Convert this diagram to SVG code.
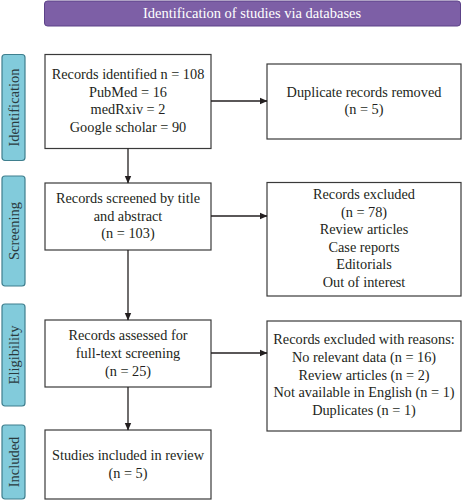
<svg xmlns="http://www.w3.org/2000/svg" width="462" height="500" viewBox="0 0 462 500">
<style>
text{font-family:"Liberation Serif","Times New Roman",serif;font-size:14.3px;fill:#231f20;stroke:none;text-anchor:middle;dominant-baseline:central}
.box{fill:#fff;stroke:#3a3a3a;stroke-width:1.2}
.phase{fill:#82cbdb;stroke:#3f7f8e;stroke-width:1.2}
.ph{font-size:14.5px;fill:#2a3a3e}
.conn{stroke:#231f20;stroke-width:1.3;fill:none;marker-end:url(#arr)}
</style>
<defs>
<marker id="arr" markerWidth="8" markerHeight="8" refX="7" refY="4" orient="auto" markerUnits="userSpaceOnUse">
<path d="M0,0.8 L7.5,4 L0,7.2 Z" fill="#231f20"/>
</marker>
</defs>
<g id="banner">
<rect x="44.5" y="1" width="416" height="25" rx="3" fill="#7d5fa6" stroke="#5c4288" stroke-width="1"/>
<text x="252" y="13" style="fill:#fff;font-size:14.5px">Identification of studies via databases</text>
</g>
<g id="phase-identification">
<rect class="phase" x="2" y="54.5" width="23" height="106" rx="3"/>
<text class="ph" transform="translate(13.5,107.5) rotate(-90)">Identification</text>
</g>
<g id="phase-screening">
<rect class="phase" x="2" y="176" width="23" height="110" rx="3"/>
<text class="ph" transform="translate(13.5,231) rotate(-90)">Screening</text>
</g>
<g id="phase-eligibility">
<rect class="phase" x="2" y="304" width="23" height="102" rx="3"/>
<text class="ph" transform="translate(13.5,355) rotate(-90)">Eligibility</text>
</g>
<g id="phase-included">
<rect class="phase" x="2" y="425" width="23" height="74" rx="3"/>
<text class="ph" transform="translate(13.5,462) rotate(-90)">Included</text>
</g>
<g id="identified">
<rect class="box" x="45" y="54.5" width="166" height="94"/>
<text x="128" y="74">Records identified n = 108</text>
<text x="128" y="91.5">PubMed = 16</text>
<text x="128" y="109">medRxiv = 2</text>
<text x="128" y="126.5">Google scholar = 90</text>
</g>
<g id="duplicates">
<rect class="box" x="267" y="64" width="194" height="75"/>
<text x="364" y="91.5">Duplicate records removed</text>
<text x="364" y="109">(n = 5)</text>
</g>
<g id="screened">
<rect class="box" x="45" y="183" width="166" height="67"/>
<text x="128" y="198">Records screened by title</text>
<text x="128" y="215.5">and abstract</text>
<text x="128" y="233">(n = 103)</text>
</g>
<g id="excluded">
<rect class="box" x="267" y="182.5" width="194" height="113.5"/>
<text x="364" y="194">Records excluded</text>
<text x="364" y="211.5">(n = 78)</text>
<text x="364" y="229">Review articles</text>
<text x="364" y="246.5">Case reports</text>
<text x="364" y="264">Editorials</text>
<text x="364" y="281.5">Out of interest</text>
</g>
<g id="assessed">
<rect class="box" x="45" y="320" width="166" height="67"/>
<text x="128" y="335">Records assessed for</text>
<text x="128" y="353">full-text screening</text>
<text x="128" y="371">(n = 25)</text>
</g>
<g id="excluded-reasons">
<rect class="box" x="267" y="321" width="194" height="110"/>
<text x="364" y="339">Records excluded with reasons:</text>
<text x="364" y="357">No relevant data (n = 16)</text>
<text x="364" y="374.5">Review articles (n = 2)</text>
<text x="364" y="392">Not available in English (n = 1)</text>
<text x="364" y="410">Duplicates (n = 1)</text>
</g>
<g id="included">
<rect class="box" x="45" y="430" width="166" height="69"/>
<text x="128" y="455">Studies included in review</text>
<text x="128" y="473">(n = 5)</text>
</g>
<g id="connectors">
<line class="conn" x1="211" y1="101" x2="267" y2="101"/>
<line class="conn" x1="128" y1="148.5" x2="128" y2="183"/>
<line class="conn" x1="211" y1="216" x2="267" y2="216"/>
<line class="conn" x1="128" y1="250" x2="128" y2="320"/>
<line class="conn" x1="211" y1="353" x2="267" y2="353"/>
<line class="conn" x1="128" y1="387" x2="128" y2="430"/>
</g>
</svg>
